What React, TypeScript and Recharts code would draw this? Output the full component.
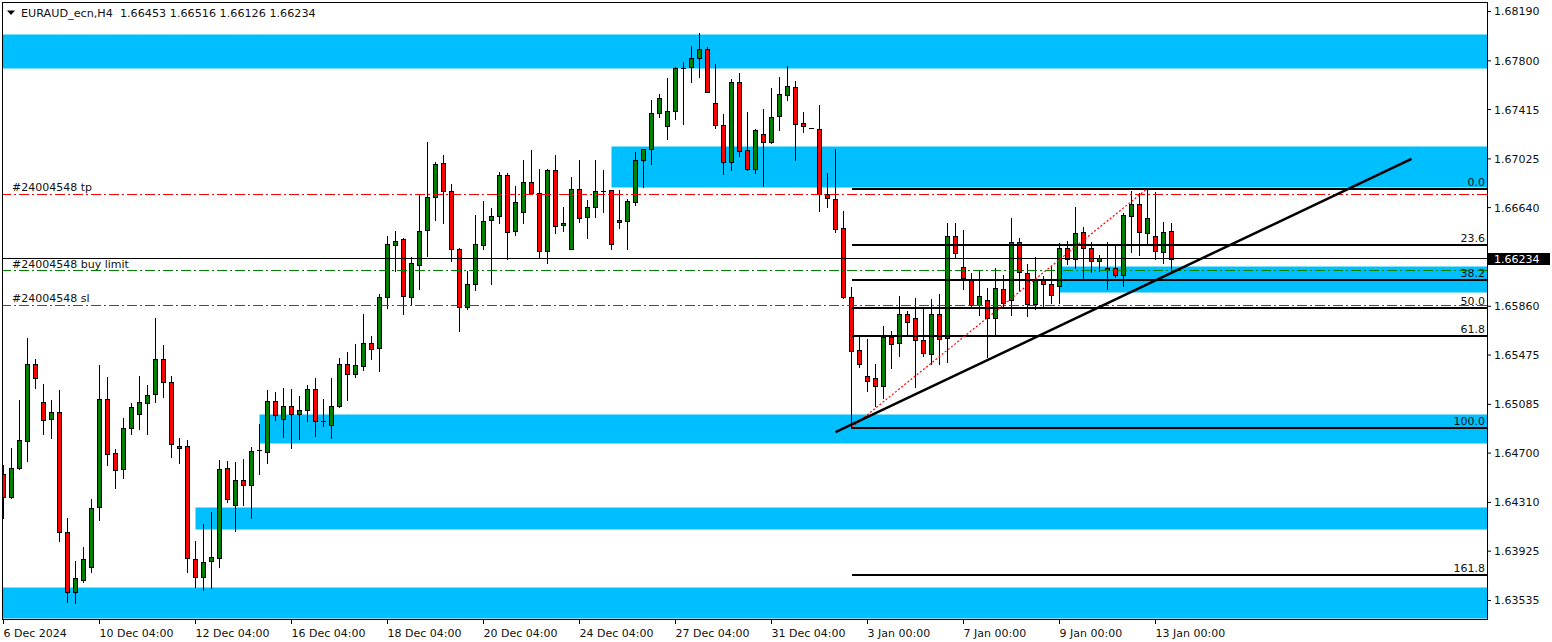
import React from 'react';
import { ComposedChart, Bar, XAxis, YAxis, ReferenceLine, ReferenceArea } from 'recharts';

// EURAUD_ecn H4 candles, bar 0 = 6 Dec 2024
const opens = [
  1.64531, 1.64357, 1.64578, 1.64800, 1.65408, 1.65100, 1.64966, 1.65021, 1.64073, 1.63598,
  1.63701, 1.63804, 1.64270, 1.65124, 1.64697, 1.64578, 1.64895, 1.65005, 1.65100, 1.65163,
  1.65440, 1.65258, 1.64760, 1.64760, 1.63867, 1.63725, 1.63843, 1.63875, 1.64586, 1.64286,
  1.64484, 1.64444, 1.64721, 1.64705, 1.65108, 1.64974, 1.65076, 1.65005, 1.65037, 1.65203,
  1.64950, 1.64926, 1.65076, 1.65408, 1.65329, 1.65392, 1.65574, 1.65527, 1.65930, 1.66349,
  1.66388, 1.65930, 1.66191, 1.66459, 1.66720, 1.66989, 1.66768, 1.66309, 1.65851, 1.66033,
  1.66349, 1.66538, 1.66570, 1.66894, 1.66451, 1.66602, 1.66839, 1.66752, 1.66293, 1.66941,
  1.66499, 1.66317, 1.66791, 1.66562, 1.66641, 1.66775, 1.66783, 1.66546, 1.66530, 1.66681,
  1.67013, 1.67100, 1.67384, 1.67281, 1.67400, 1.67740, 1.67748, 1.67819, 1.67890, 1.67463,
  1.67289, 1.66997, 1.67629, 1.67092, 1.66941, 1.67218, 1.67163, 1.67360, 1.67534, 1.67597,
  1.67305, 1.67273, 1.67258, 1.66744, 1.66712, 1.66475, 1.65930, 1.65511, 1.65313, 1.65290,
  1.65226, 1.65614, 1.65566, 1.65803, 1.65764, 1.65590, 1.65487, 1.65803, 1.65606, 1.66412,
  1.66167, 1.66072, 1.65867, 1.65906, 1.65764, 1.65993, 1.65906, 1.66365, 1.66127, 1.65875,
  1.66064, 1.66033, 1.66017, 1.66317, 1.66230, 1.66444, 1.66317, 1.66214, 1.66143, 1.66159,
  1.66104, 1.66570, 1.66665, 1.66436, 1.66412, 1.66293, 1.66453,
];
const highs = [
  1.64602, 1.64744, 1.65116, 1.65606, 1.65440, 1.65250, 1.65116, 1.65195, 1.64191, 1.63851,
  1.63954, 1.64341, 1.65400, 1.65298, 1.64729, 1.64981, 1.65092, 1.65306, 1.65242, 1.65764,
  1.65551, 1.65306, 1.64816, 1.64800, 1.64009, 1.64136, 1.64231, 1.64642, 1.64634, 1.64626,
  1.64650, 1.64752, 1.64926, 1.65195, 1.65179, 1.65211, 1.65203, 1.65155, 1.65242, 1.65290,
  1.65124, 1.65290, 1.65448, 1.65495, 1.65566, 1.65803, 1.65622, 1.65954, 1.66412, 1.66459,
  1.66396, 1.66246, 1.66744, 1.67155, 1.66997, 1.67052, 1.66823, 1.66317, 1.66143, 1.66578,
  1.66689, 1.66633, 1.66918, 1.66910, 1.66807, 1.67013, 1.67092, 1.66949, 1.66949, 1.67052,
  1.66641, 1.66878, 1.67013, 1.66704, 1.67013, 1.66934, 1.66783, 1.66783, 1.66712, 1.67076,
  1.67107, 1.67487, 1.67534, 1.67661, 1.67748, 1.67787, 1.67921, 1.68016, 1.67913, 1.67771,
  1.67376, 1.67653, 1.67700, 1.67392, 1.67258, 1.67416, 1.67589, 1.67669, 1.67763, 1.67637,
  1.67392, 1.67273, 1.67447, 1.66910, 1.67107, 1.66617, 1.66009, 1.65637, 1.65598, 1.65408,
  1.65701, 1.65661, 1.65938, 1.65819, 1.65922, 1.65835, 1.65914, 1.65961, 1.66515, 1.66515,
  1.66467, 1.66127, 1.66143, 1.66001, 1.66159, 1.66104, 1.66554, 1.66396, 1.66191, 1.66246,
  1.66096, 1.66175, 1.66357, 1.66380, 1.66641, 1.66483, 1.66372, 1.66262, 1.66365, 1.66341,
  1.66594, 1.66775, 1.66752, 1.66791, 1.66760, 1.66530, 1.66516,
];
const lows = [
  1.64191, 1.64349, 1.64571, 1.64634, 1.65211, 1.64847, 1.64823, 1.64002, 1.63527, 1.63512,
  1.63678, 1.63757, 1.64175, 1.64602, 1.64428, 1.64507, 1.64847, 1.64887, 1.64847, 1.65100,
  1.65147, 1.64673, 1.64618, 1.63764, 1.63638, 1.63622, 1.63630, 1.63796, 1.64310, 1.64081,
  1.64286, 1.64191, 1.64531, 1.64618, 1.64958, 1.64831, 1.64744, 1.64808, 1.64950, 1.64839,
  1.64918, 1.64823, 1.65061, 1.65116, 1.65298, 1.65353, 1.65440, 1.65345, 1.65843, 1.66143,
  1.65803, 1.65867, 1.65993, 1.66254, 1.66546, 1.66515, 1.66222, 1.65661, 1.65835, 1.65985,
  1.66309, 1.66033, 1.66515, 1.66230, 1.66420, 1.66515, 1.66744, 1.66246, 1.66199, 1.66436,
  1.66459, 1.66317, 1.66523, 1.66396, 1.66562, 1.66602, 1.66309, 1.66475, 1.66309, 1.66657,
  1.66799, 1.66981, 1.67360, 1.67186, 1.67344, 1.67297, 1.67629, 1.67676, 1.67550, 1.67273,
  1.66902, 1.66941, 1.67044, 1.66934, 1.66910, 1.66807, 1.67147, 1.67250, 1.67487, 1.67013,
  1.67234, 1.67273, 1.66617, 1.66641, 1.66444, 1.65922, 1.64902, 1.65377, 1.65187, 1.65076,
  1.65132, 1.65369, 1.65464, 1.65645, 1.65219, 1.65464, 1.65408, 1.65408, 1.65416, 1.66238,
  1.65993, 1.65859, 1.65788, 1.65456, 1.65630, 1.65851, 1.65788, 1.65985, 1.65780, 1.65835,
  1.65851, 1.65890, 1.65890, 1.66191, 1.66159, 1.66064, 1.66135, 1.66143, 1.65993, 1.66088,
  1.66017, 1.66293, 1.66262, 1.66357, 1.66230, 1.66206, 1.66126,
];
const closes = [
  1.64349, 1.64586, 1.64800, 1.65408, 1.65298, 1.64958, 1.65021, 1.64073, 1.63598, 1.63709,
  1.63867, 1.64270, 1.65124, 1.64689, 1.64563, 1.64902, 1.65061, 1.65100, 1.65163, 1.65440,
  1.65258, 1.64768, 1.64744, 1.63875, 1.63725, 1.63843, 1.63875, 1.64578, 1.64341, 1.64484,
  1.64444, 1.64713, 1.64721, 1.65108, 1.64997, 1.65076, 1.65013, 1.65037, 1.65203, 1.64950,
  1.64950, 1.65076, 1.65408, 1.65329, 1.65400, 1.65574, 1.65527, 1.65930, 1.66349, 1.66380,
  1.65938, 1.66199, 1.66459, 1.66720, 1.66981, 1.66768, 1.66309, 1.65851, 1.66033, 1.66349,
  1.66538, 1.66570, 1.66894, 1.66444, 1.66681, 1.66839, 1.66752, 1.66293, 1.66934, 1.66499,
  1.66515, 1.66791, 1.66562, 1.66641, 1.66768, 1.66775, 1.66357, 1.66530, 1.66689, 1.67013,
  1.67100, 1.67384, 1.67503, 1.67400, 1.67740, 1.67740, 1.67819, 1.67890, 1.67550, 1.67289,
  1.66997, 1.67629, 1.67084, 1.66941, 1.67250, 1.67155, 1.67360, 1.67534, 1.67605, 1.67305,
  1.67281, 1.67273, 1.66744, 1.66712, 1.66475, 1.65930, 1.65503, 1.65400, 1.65274, 1.65226,
  1.65614, 1.65558, 1.65796, 1.65740, 1.65590, 1.65487, 1.65803, 1.65606, 1.66412, 1.66278,
  1.66080, 1.65867, 1.65938, 1.65764, 1.66001, 1.65882, 1.66365, 1.66127, 1.65882, 1.66064,
  1.66033, 1.65946, 1.66317, 1.66230, 1.66436, 1.66317, 1.66214, 1.66238, 1.66159, 1.66104,
  1.66578, 1.66665, 1.66444, 1.66554, 1.66293, 1.66451, 1.66234,
];

const tickBars = [0, 12, 24, 36, 48, 60, 72, 84, 96, 108, 120, 132, 144];
const tickLabels = [
  '6 Dec 2024', '10 Dec 04:00', '12 Dec 04:00', '16 Dec 04:00', '18 Dec 04:00', '20 Dec 04:00',
  '24 Dec 04:00', '27 Dec 04:00', '31 Dec 04:00', '3 Jan 00:00', '7 Jan 00:00', '9 Jan 00:00', '13 Jan 00:00',
];
const priceTicks = [
  1.6819, 1.678, 1.67415, 1.67025, 1.6664, 1.6586, 1.65475, 1.65085, 1.647, 1.6431, 1.63925, 1.63535,
];

// blue zones (start bar, or null for whole width)
const zoneStart = [null, 76, 132, 32, 24, null];
const zoneTop = [1.68008, 1.67123, 1.66175, 1.65005, 1.6427, 1.63638];
const zoneBottom = [1.6774, 1.66799, 1.65969, 1.64776, 1.64096, 1.63393];

const orderNames = ['#24004548 tp', '#24004548 buy limit', '#24004548 sl'];
const orderPrices = [1.66744, 1.66143, 1.65867];
const orderColors = ['#ff0000', '#008000', '#ff0000'];

const fibLevels = [0, 23.6, 38.2, 50, 61.8, 100, 161.8];
const fibLow = { bar: 106, price: 1.64902 };
const fibHigh = { bar: 143, price: 1.66791 };
const trendFrom = { bar: 104, price: 1.64865 };
const trendTo = { bar: 176, price: 1.67025 };

const bid = 1.66234;
const title = 'EURAUD_ecn,H4  1.66453 1.66516 1.66126 1.66234';

const xMin = -0.0625;
const xMax = 185.4375;
const yMin = 1.63381;
const yMax = 1.68257;

const FONT = 'DejaVu Sans';
const TEXT = '#111';

const rows = opens.map((o, i) => ({
  i,
  o,
  h: highs[i],
  l: lows[i],
  c: closes[i],
  range: [lows[i], highs[i]],
}));

const Candle = (props: any) => {
  const { x, y, width, height, payload } = props;
  if (x == null || y == null) return null;
  const cx = Math.floor(x + width / 2) + 0.5;
  const top = height >= 0 ? y : y + height;
  const h = Math.abs(height);
  const span = payload.h - payload.l;
  const py = (p: number) => (span > 0 ? top + ((payload.h - p) / span) * h : top);
  const yo = py(payload.o);
  const yc = py(payload.c);
  const bodyTop = Math.round(Math.min(yo, yc)) + 0.5;
  const bodyH = Math.round(Math.abs(yc - yo));
  const bull = payload.c > payload.o;
  return (
    <g shapeRendering="crispEdges">
      <line x1={cx} x2={cx} y1={Math.round(top)} y2={Math.round(top + h) + 1} stroke="#000" />
      {bodyH < 1 ? (
        <line x1={cx - 2.5} x2={cx + 2.5} y1={bodyTop} y2={bodyTop} stroke="#000" />
      ) : (
        <rect x={cx - 2} y={bodyTop} width={4} height={bodyH} fill={bull ? '#008000' : '#ff0000'} stroke="#000" />
      )}
    </g>
  );
};

const XTick = (props: any) => {
  const { x, y, payload } = props;
  const k = tickBars.indexOf(payload.value);
  return (
    <text x={x} y={y} dy={11} textAnchor="start" fontSize={11} fontFamily={FONT} fill={TEXT}>
      {tickLabels[k]}
    </text>
  );
};

const YTick = (props: any) => {
  const { x, y, payload } = props;
  return (
    <text x={x} y={y} dy="0.36em" textAnchor="start" fontSize={11} fontFamily={FONT} fill={TEXT}>
      {Number(payload.value).toFixed(5)}
    </text>
  );
};

const leftLabel = (text: string) => (p: any) => {
  const vb = p.viewBox || {};
  return (
    <text x={(vb.x ?? 3) + 9} y={(vb.y ?? 0) - 3} fontSize={11} fontFamily={FONT} fill={TEXT}>
      {text}
    </text>
  );
};

const rightLabel = (text: string) => (p: any) => {
  const vb = p.viewBox || {};
  return (
    <text x={(vb.x ?? 0) + (vb.width ?? 0) - 2} y={(vb.y ?? 0) - 3} textAnchor="end" fontSize={11} fontFamily={FONT} fill={TEXT}>
      {text}
    </text>
  );
};

const bidLabel = (p: any) => {
  const vb = p.viewBox || {};
  const bx = (vb.x ?? 0) + (vb.width ?? 0) + 1;
  const by = Math.round(vb.y ?? 0);
  return (
    <g>
      <rect x={bx} y={by - 6} width={62} height={12} fill="#000" />
      <text x={bx + 6} y={by} dy="0.36em" fontSize={11} fontFamily={FONT} fill="#fff">
        {bid.toFixed(5)}
      </text>
    </g>
  );
};

export default function App() {
  const fibRange = fibHigh.price - fibLow.price;
  return (
    <div style={{ position: 'absolute', left: 0, top: 0, width: 1552, height: 642, background: '#fff' }}>
      <ComposedChart width={1552} height={642} data={rows} margin={{ top: 3, right: 0, bottom: 0, left: 3 }}>
        <XAxis
          dataKey="i"
          type="number"
          domain={[xMin, xMax]}
          allowDataOverflow
          ticks={tickBars}
          interval={0}
          height={22}
          tickSize={4}
          tickMargin={2}
          tickLine={{ stroke: '#000' }}
          axisLine={false}
          tick={XTick}
        />
        <YAxis
          type="number"
          orientation="right"
          domain={[yMin, yMax]}
          allowDataOverflow
          ticks={priceTicks}
          interval={0}
          width={65}
          tickSize={4}
          tickMargin={3}
          tickLine={{ stroke: '#000' }}
          axisLine={false}
          tick={YTick}
        />
        {zoneTop.map((t, k) => (
          <ReferenceArea
            key={'z' + k}
            x1={zoneStart[k] ?? undefined}
            y1={zoneBottom[k]}
            y2={t}
            fill="#00bfff"
            fillOpacity={1}
            stroke="none"
          />
        ))}
        <Bar dataKey="range" barSize={5} isAnimationActive={false} shape={(p: any) => <Candle {...p} />} />
        {orderPrices.map((p, k) => (
          <ReferenceLine
            key={'o' + k}
            y={p}
            stroke={orderColors[k]}
            strokeDasharray="10 3 2 3"
            shapeRendering="crispEdges"
            label={leftLabel(orderNames[k])}
          />
        ))}
        <ReferenceLine y={bid} stroke="#000" shapeRendering="crispEdges" label={bidLabel} />
        {fibLevels.map((r) => {
          const price = fibHigh.price - (r / 100) * fibRange;
          return (
            <ReferenceLine
              key={'f' + r}
              segment={[{ x: fibLow.bar, y: price }, { x: xMax, y: price }]}
              stroke="#000"
              strokeWidth={2}
              shapeRendering="crispEdges"
              label={rightLabel(r.toFixed(1))}
            />
          );
        })}
        <ReferenceLine
          segment={[{ x: fibLow.bar, y: fibLow.price }, { x: fibHigh.bar, y: fibHigh.price }]}
          stroke="#ff0000"
          strokeWidth={1.2}
          strokeDasharray="2 2"
        />
        <ReferenceLine
          segment={[{ x: trendFrom.bar, y: trendFrom.price }, { x: trendTo.bar, y: trendTo.price }]}
          stroke="#000"
          strokeWidth={2.5}
        />
      </ComposedChart>
      <div
        style={{
          position: 'absolute',
          left: 2,
          top: 2,
          width: 1486,
          height: 618,
          border: '1px solid #000',
          boxSizing: 'border-box',
          pointerEvents: 'none',
        }}
      />
      <svg width={400} height={24} style={{ position: 'absolute', left: 0, top: 0 }}>
        <polygon points="7,10.5 15,10.5 11,15" fill="#000" />
        <text x={21} y={16.5} fontSize={11.2} fontFamily={FONT} fill={TEXT} xmlSpace="preserve" style={{ whiteSpace: 'pre' }}>
          {title}
        </text>
      </svg>
    </div>
  );
}
